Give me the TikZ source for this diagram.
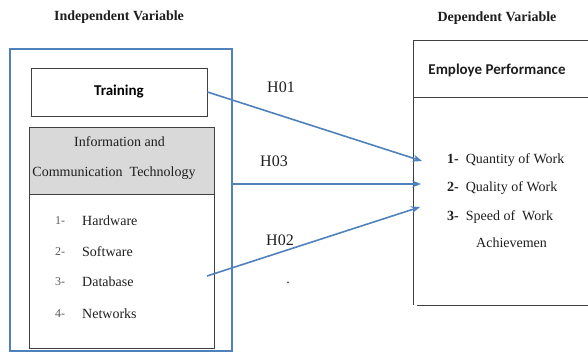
\documentclass[tikz,border=0pt]{standalone}
\usepackage{fontspec}
\setmainfont{Liberation Serif}
\newfontfamily\calib{Carlito}
\usetikzlibrary{arrows.meta}
\definecolor{frameblue}{RGB}{79,129,189}
\definecolor{headgray}{RGB}{217,217,217}
\definecolor{ink}{RGB}{30,30,30}
\definecolor{numgray}{RGB}{90,90,90}

\tikzset{
  box/.style={draw=ink!85, line width=0.9pt, inner sep=0pt},
  txt/.style={inner sep=0pt, text=ink, font=\fontsize{14}{16}\selectfont},
  title/.style={inner sep=0pt, text=ink, font=\fontsize{14}{16}\selectfont\bfseries},
  hyp/.style={inner sep=0pt, text=ink, font=\fontsize{16}{18}\selectfont},
  link/.style={draw=frameblue, line width=1.6pt, -{Stealth[length=9pt,width=7pt]}},
}

\begin{document}
\begin{tikzpicture}[x=1pt,y=-1pt]
\useasboundingbox (0,0) rectangle (588,353);

% headings
\node[title] (indep) at (119,17) {Independent Variable};
\node[title] (dep) at (497,18) {Dependent Variable};

% independent side
\node[draw=frameblue, line width=2pt, minimum width=222pt, minimum height=302pt] (outer) at (121,200) {};
\node[box, minimum width=176pt, minimum height=48pt] (train) at (119,92)
  {\calib\fontsize{15}{17}\selectfont\bfseries Training};
\node[box, fill=headgray, minimum width=185pt, minimum height=67pt] (icthead) at (121.5,160.5) {};
\node[box, minimum width=185pt, minimum height=154pt] (ictbody) at (121.5,271) {};
\node[txt] (ict1) at (119.5,142) {Information and};
\node[txt] (ict2) at (114,173) {Communication\ \ Technology};

\node[txt, anchor=west, text=numgray, font=\fontsize{12}{14}\selectfont] (n1) at (55,221) {1-};
\node[txt, anchor=west, text=numgray, font=\fontsize{12}{14}\selectfont] (n2) at (55,252) {2-};
\node[txt, anchor=west, text=numgray, font=\fontsize{12}{14}\selectfont] (n3) at (55,282) {3-};
\node[txt, anchor=west, text=numgray, font=\fontsize{12}{14}\selectfont] (n4) at (55,314) {4-};
\node[txt, anchor=west] (i1) at (82,221) {Hardware};
\node[txt, anchor=west] (i2) at (82,252) {Software};
\node[txt, anchor=west] (i3) at (82,282) {Database};
\node[txt, anchor=west] (i4) at (82,314) {Networks};

% dependent side
\node[inner sep=0pt, anchor=north west, minimum width=175pt, minimum height=57pt] (perfhead) at (413,40) {};
\node[inner sep=0pt, anchor=north west, minimum width=175pt, minimum height=208pt] (perfbody) at (413,97) {};
\draw[ink!85, line width=0.9pt] (perfhead.north east) -- (perfhead.north west) -- (perfbody.south west);
\draw[ink!85, line width=0.9pt] (perfhead.south west) -- (perfhead.south east);
\draw[ink!85, line width=0.9pt] ([xshift=4pt]perfbody.south west) -- (perfbody.south east);
\node[inner sep=0pt, text=ink] (perf) at (497,70) {\calib\fontsize{15}{17}\selectfont\bfseries Employe Performance};
\node[txt, anchor=west] (o1) at (447,160) {\textbf{1-}\ \ Quantity of Work};
\node[txt, anchor=west] (o2) at (447,188) {\textbf{2-}\ \ Quality of Work};
\node[txt, anchor=west] (o3) at (447,217) {\textbf{3-}\ \ Speed of\ \ Work};
\node[txt, anchor=west] (o4) at (476,243) {Achievemen};

% hypothesis links
\coordinate (t1) at (422,161);
\coordinate (t3) at (421,184);
\coordinate (s2) at (207,276);
\coordinate (t2) at (420,207);
\draw[link] (train.east) -- (t1);
\draw[link] (outer.east |- t3) -- (t3);
\draw[link] (s2) -- (t2);

\node[hyp] (h1) at (281,87) {H01};
\node[hyp] (h3) at (274,161) {H03};
\node[hyp] (h2) at (280,240) {H02};
\node[txt] (dot) at (288,283) {.};
\end{tikzpicture}
\end{document}
